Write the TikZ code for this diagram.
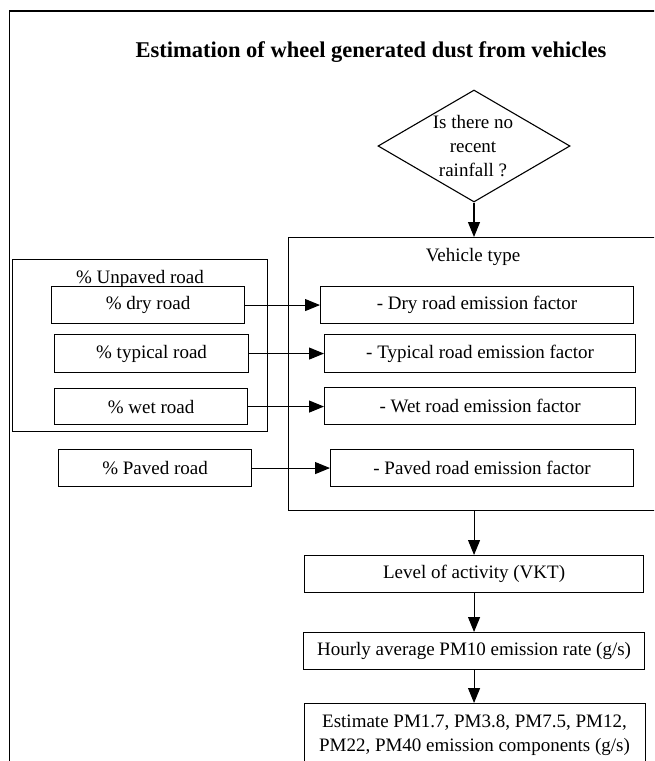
\documentclass[tikz,border=0pt]{standalone}
\usepackage{fontspec}
\setmainfont{Liberation Serif}
\usetikzlibrary{arrows.meta,shapes.geometric}
\newcommand\bodyfont{\fontsize{19}{24}\selectfont}
\newcommand\titlefont{\fontsize{22.5}{27}\selectfont\bfseries}
\begin{document}
\begin{tikzpicture}[x=1pt,y=1pt,
  box/.style={draw, line width=1.1pt, inner sep=0pt, anchor=north west, align=center, font=\bodyfont},
  txt/.style={inner sep=0pt, align=center, font=\bodyfont},
  arr/.style={line width=1.1pt, -{Triangle[length=15pt,width=12pt]}}]
\useasboundingbox (0,0) rectangle (654,-761);
\clip (0,0) rectangle (654,-761);
% outer frame (cut by the page)
\draw[line width=1.1pt] (9.5,-800) -- (9.5,-11) -- (700,-11) -- (700,-800) -- cycle;
% title
\node[inner sep=0pt, anchor=base, font=\titlefont] (title) at (371,-57) {Estimation of wheel generated dust from vehicles};
% decision
\node[diamond, draw, line width=1.1pt, minimum width=192pt, minimum height=112pt, inner sep=0pt] (dia) at (474,-146) {};
\node[txt] (diatxt) at (473,-146) {Is there no\\recent\\rainfall ?};
% vehicle type box
\node[box, minimum width=420pt, minimum height=273pt] (veh) at (288,-237) {};
\node[txt] (vehtxt) at (473,-257) {Vehicle type};
% unpaved group
\node[box, minimum width=255pt, minimum height=172pt] (unp) at (12,-259) {};
\node[txt] (unptxt) at (140,-279) {\% Unpaved road};
% left boxes
\node[box, minimum width=193pt, minimum height=37pt] (ldry) at (51,-286) {\% dry road};
\node[box, minimum width=194pt, minimum height=38pt] (ltyp) at (54,-334) {\% typical road};
\node[box, minimum width=193pt, minimum height=36pt] (lwet) at (54,-388) {\% wet road};
\node[box, minimum width=193pt, minimum height=37pt] (lpav) at (58,-449) {\% Paved road};
% right boxes
\node[box, minimum width=313pt, minimum height=37pt] (rdry) at (320,-286) {- Dry road emission factor};
\node[box, minimum width=311pt, minimum height=38pt] (rtyp) at (324,-334) {- Typical road emission factor};
\node[box, minimum width=311pt, minimum height=37pt] (rwet) at (324,-387) {- Wet road emission factor};
\node[box, minimum width=303pt, minimum height=37pt] (rpav) at (330,-449) {- Paved road emission factor};
% lower chain
\node[box, minimum width=339pt, minimum height=37pt] (lvl) at (304,-555) {Level of activity (VKT)};
\node[box, minimum width=341pt, minimum height=37pt] (hr) at (303,-632) {Hourly average PM10 emission rate (g/s)};
\node[box, minimum width=341pt, minimum height=90pt] (est) at (304,-703) {};
\node[txt] (esttxt) at (474.5,-735) {Estimate PM1.7, PM3.8, PM7.5, PM12,\\PM22, PM40 emission components (g/s)};
% connectors
\draw[arr] (dia.south) -- (dia.south |- veh.north);
\draw[arr] (ldry.east) -- (ldry.east -| rdry.west);
\draw[arr] (ltyp.east) -- (ltyp.east -| rtyp.west);
\draw[arr] (lwet.east) -- (lwet.east -| rwet.west);
\draw[arr] (lpav.east) -- (lpav.east -| rpav.west);
\draw[arr] (lvl.north |- veh.south) -- (lvl.north);
\draw[arr] (lvl.south) -- (lvl.south |- hr.north);
\draw[arr] (hr.south) -- (hr.south |- est.north);
\end{tikzpicture}
\end{document}
